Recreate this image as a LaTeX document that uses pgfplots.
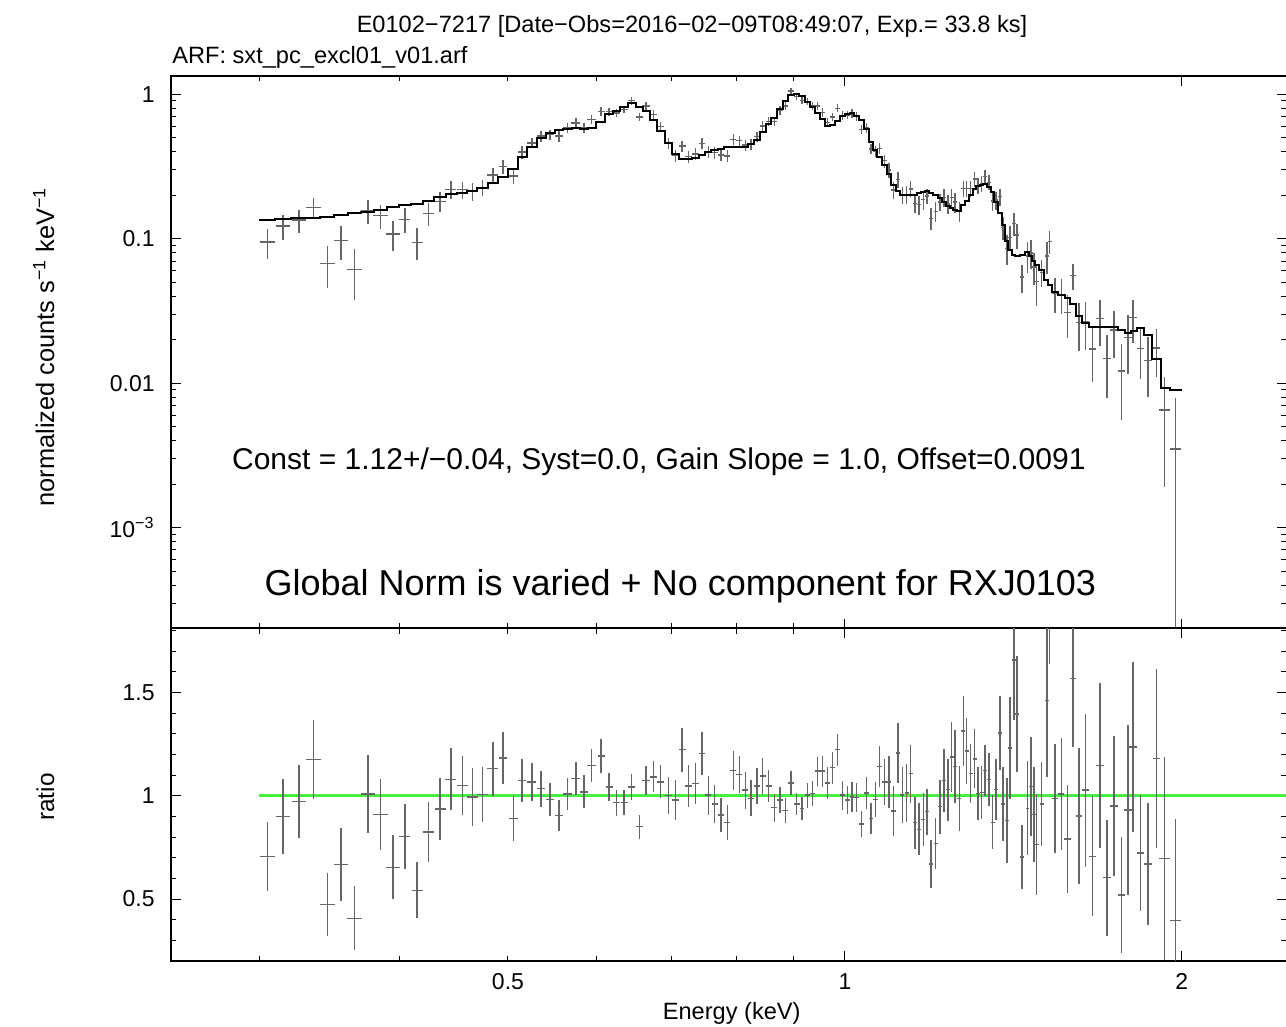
\documentclass[border=0pt]{standalone}
\usepackage{fontspec}
\setmainfont{Liberation Sans}
\usepackage{pgfplots}
\usepackage{pgfplotstable}
\pgfplotsset{compat=1.18}

\definecolor{xgreen}{RGB}{70,238,70}

% E (keV), relative half bin width, model, ratio, ratio err, data, data err +/-
\pgfplotstableread{
E xr m r re d dp dm
0.3049 0.015 0.134 0.707 0.168 0.0947 0.0225 0.0225
0.3147 0.015 0.136 0.900 0.180 0.1224 0.0245 0.0245
0.3253 0.015 0.1385 0.971 0.176 0.1345 0.0244 0.0244
0.3352 0.015 0.140 1.176 0.190 0.1646 0.0266 0.0266
0.3449 0.015 0.142 0.473 0.152 0.0672 0.0216 0.0216
0.3548 0.015 0.146 0.668 0.177 0.0975 0.0258 0.0258
0.3647 0.015 0.150 0.407 0.155 0.0611 0.0233 0.0233
0.3749 0.015 0.154 1.008 0.190 0.1552 0.0293 0.0293
0.3847 0.015 0.159 0.910 0.171 0.1447 0.0272 0.0272
0.3949 0.015 0.165 0.654 0.155 0.1079 0.0256 0.0256
0.4044 0.0113 0.170 0.803 0.156 0.1365 0.0265 0.0265
0.4148 0.0113 0.174 0.542 0.135 0.0943 0.0235 0.0235
0.4246 0.0113 0.182 0.824 0.146 0.1500 0.0266 0.0266
0.4349 0.0113 0.194 0.936 0.150 0.1816 0.0291 0.0291
0.4446 0.0113 0.203 1.079 0.150 0.2190 0.0305 0.0305
0.4551 0.0113 0.208 1.051 0.144 0.2186 0.0300 0.0300
0.4648 0.0113 0.215 0.995 0.140 0.2139 0.0301 0.0301
0.4745 0.0113 0.226 1.006 0.132 0.2274 0.0298 0.0298
0.4847 0.0113 0.244 1.131 0.131 0.2760 0.0320 0.0320
0.4950 0.009 0.267 1.183 0.128 0.3159 0.0342 0.0342
0.5056 0.009 0.305 0.891 0.109 0.2718 0.0332 0.0332
0.5148 0.009 0.370 1.075 0.104 0.3978 0.0385 0.0385
0.5252 0.009 0.433 1.066 0.092 0.4616 0.0398 0.0398
0.5353 0.009 0.497 1.034 0.087 0.5139 0.0432 0.0432
0.5452 0.009 0.538 0.982 0.079 0.5283 0.0425 0.0425
0.5554 0.009 0.568 0.905 0.075 0.5140 0.0426 0.0426
0.5655 0.009 0.580 1.008 0.078 0.5846 0.0452 0.0452
0.5749 0.009 0.585 1.083 0.080 0.6336 0.0468 0.0468
0.5848 0.009 0.575 1.019 0.080 0.5859 0.0460 0.0460
0.5941 0.009 0.586 1.147 0.080 0.6721 0.0469 0.0469
0.6056 0.0072 0.640 1.192 0.082 0.7629 0.0525 0.0525
0.6157 0.0072 0.726 1.043 0.067 0.7572 0.0486 0.0486
0.6249 0.0072 0.768 0.966 0.064 0.7419 0.0492 0.0492
0.6349 0.0072 0.815 0.966 0.060 0.7873 0.0489 0.0489
0.6450 0.0072 0.865 1.043 0.062 0.9022 0.0536 0.0536
0.6551 0.0072 0.820 0.851 0.058 0.6978 0.0476 0.0476
0.6642 0.0072 0.770 1.075 0.070 0.8278 0.0539 0.0539
0.6748 0.0072 0.663 1.091 0.075 0.7233 0.0497 0.0497
0.6847 0.0072 0.560 1.067 0.080 0.5975 0.0448 0.0448
0.6955 0.0072 0.460 1.000 0.090 0.4600 0.0414 0.0414
0.7061 0.0072 0.386 0.979 0.095 0.3779 0.0367 0.0367
0.7153 0.0072 0.358 1.223 0.107 0.4378 0.0383 0.0383
0.7252 0.0072 0.355 1.048 0.100 0.3720 0.0355 0.0355
0.7351 0.0072 0.365 1.059 0.100 0.3865 0.0365 0.0365
0.7453 0.0061 0.380 1.204 0.104 0.4575 0.0395 0.0395
0.7550 0.0061 0.400 1.003 0.094 0.4012 0.0376 0.0376
0.7650 0.0061 0.413 0.960 0.090 0.3965 0.0372 0.0372
0.7750 0.0061 0.420 0.907 0.084 0.3809 0.0353 0.0353
0.7851 0.0061 0.430 0.870 0.084 0.3741 0.0361 0.0361
0.7948 0.0061 0.434 1.123 0.095 0.4874 0.0412 0.0412
0.8047 0.0061 0.434 1.103 0.090 0.4787 0.0391 0.0391
0.8147 0.0061 0.434 1.027 0.090 0.4457 0.0391 0.0391
0.8243 0.0061 0.455 0.987 0.087 0.4491 0.0396 0.0396
0.8345 0.0061 0.485 1.048 0.087 0.5083 0.0422 0.0422
0.8444 0.0061 0.550 1.096 0.086 0.6028 0.0473 0.0473
0.8548 0.0061 0.620 1.048 0.076 0.6498 0.0471 0.0471
0.8646 0.0061 0.690 0.942 0.068 0.6500 0.0469 0.0469
0.8748 0.0061 0.790 0.979 0.064 0.7734 0.0506 0.0506
0.8845 0.0061 0.895 0.928 0.062 0.8306 0.0555 0.0555
0.8949 0.0061 0.990 1.062 0.058 1.0514 0.0574 0.0574
0.9055 0.0061 1.010 0.960 0.054 0.9696 0.0545 0.0545
0.9154 0.0049 0.970 0.938 0.056 0.9099 0.0543 0.0543
0.9254 0.0049 0.890 1.003 0.060 0.8927 0.0534 0.0534
0.9350 0.0049 0.820 1.011 0.060 0.8290 0.0492 0.0492
0.9454 0.0049 0.740 1.119 0.070 0.8281 0.0518 0.0518
0.9552 0.0049 0.670 1.119 0.075 0.7497 0.0503 0.0503
0.9651 0.0049 0.600 1.062 0.078 0.6372 0.0468 0.0468
0.9750 0.0049 0.615 1.136 0.078 0.6986 0.0480 0.0480
0.9851 0.0049 0.655 1.223 0.078 0.8011 0.0511 0.0511
0.9953 0.0049 0.710 1.003 0.070 0.7121 0.0497 0.0497
1.0047 0.0049 0.735 0.979 0.068 0.7196 0.0500 0.0500
1.0145 0.0049 0.745 0.995 0.072 0.7413 0.0536 0.0536
1.0244 0.0049 0.710 0.992 0.070 0.7043 0.0497 0.0497
1.0349 0.0049 0.660 0.864 0.064 0.5702 0.0422 0.0422
1.0448 0.0049 0.580 1.014 0.076 0.5881 0.0441 0.0441
1.0549 0.0049 0.470 0.891 0.074 0.4188 0.0348 0.0348
1.0643 0.0049 0.410 0.982 0.084 0.4026 0.0344 0.0344
1.0739 0.0049 0.370 1.143 0.100 0.4229 0.0370 0.0370
1.0842 0.0049 0.325 1.067 0.110 0.3468 0.0358 0.0358
1.0947 0.0049 0.280 1.067 0.124 0.2988 0.0347 0.0347
1.1053 0.0049 0.235 0.926 0.120 0.2176 0.0282 0.0282
1.1151 0.0049 0.213 1.207 0.146 0.2571 0.0311 0.0311
1.1250 0.0041 0.201 1.003 0.134 0.2016 0.0269 0.0269
1.1352 0.0041 0.200 1.014 0.140 0.2028 0.0280 0.0280
1.1446 0.0041 0.200 1.107 0.140 0.2214 0.0280 0.0280
1.1548 0.0041 0.202 0.870 0.126 0.1757 0.0255 0.0255
1.1650 0.0041 0.206 0.838 0.127 0.1726 0.0262 0.0262
1.1747 0.0041 0.210 0.886 0.128 0.1861 0.0269 0.0269
1.1843 0.0041 0.214 0.923 0.112 0.1975 0.0240 0.0240
1.1941 0.0041 0.207 0.670 0.115 0.1387 0.0238 0.0238
1.2050 0.0041 0.201 0.768 0.123 0.1544 0.0247 0.0247
1.2157 0.0041 0.190 0.947 0.131 0.1799 0.0249 0.0249
1.2257 0.0041 0.180 1.075 0.152 0.1935 0.0274 0.0274
1.2366 0.0041 0.169 1.030 0.150 0.1741 0.0254 0.0254
1.2453 0.0041 0.163 1.188 0.170 0.1936 0.0277 0.0277
1.2545 0.0041 0.157 1.143 0.176 0.1795 0.0276 0.0276
1.2649 0.0041 0.156 0.987 0.156 0.1540 0.0243 0.0243
1.2754 0.0041 0.170 1.313 0.170 0.2232 0.0289 0.0289
1.2843 0.0041 0.184 1.216 0.159 0.2237 0.0293 0.0293
1.2949 0.0041 0.202 1.107 0.144 0.2236 0.0291 0.0291
1.3056 0.0041 0.220 1.179 0.142 0.2594 0.0312 0.0312
1.3153 0.0041 0.231 1.011 0.127 0.2335 0.0293 0.0293
1.3245 0.0041 0.236 1.016 0.128 0.2398 0.0302 0.0302
1.3343 0.0041 0.240 1.123 0.123 0.2695 0.0295 0.0295
1.3445 0.0041 0.228 1.079 0.130 0.2460 0.0296 0.0296
1.3548 0.0041 0.210 0.872 0.130 0.1831 0.0273 0.0273
1.3649 0.0041 0.180 1.030 0.146 0.1854 0.0263 0.0263
1.3753 0.0041 0.150 1.304 0.179 0.1956 0.0269 0.0269
1.3846 0.0041 0.125 0.960 0.180 0.1200 0.0225 0.0225
1.3951 0.0041 0.097 0.880 0.206 0.0854 0.0200 0.0200
1.4047 0.0041 0.083 1.232 0.247 0.1023 0.0205 0.0205
1.4154 0.0041 0.077 1.657 0.290 0.1276 0.0223 0.0223
1.4250 0.0041 0.076 1.396 0.280 0.1061 0.0213 0.0213
1.4397 0.0041 0.077 0.704 0.155 0.0542 0.0119 0.0119
1.4558 0.0041 0.081 0.939 0.227 0.0761 0.0184 0.0184
1.4657 0.0041 0.076 1.046 0.239 0.0795 0.0182 0.0182
1.4757 0.0041 0.070 0.910 0.231 0.0637 0.0162 0.0162
1.4839 0.0041 0.066 0.763 0.244 0.0504 0.0161 0.0161
1.4984 0.0041 0.061 0.960 0.204 0.0586 0.0124 0.0124
1.5157 0.0041 0.052 1.460 0.370 0.0759 0.0192 0.0192
1.5241 0.0041 0.048 2.000 0.360 0.0960 0.0173 0.0173
1.5399 0.0062 0.0425 0.987 0.264 0.0419 0.0112 0.0112
1.5613 0.0062 0.041 1.008 0.270 0.0413 0.0111 0.0111
1.5807 0.0062 0.039 0.790 0.260 0.0308 0.0101 0.0101
1.5990 0.0062 0.0355 1.567 0.330 0.0556 0.0117 0.0117
1.6188 0.0062 0.029 0.902 0.330 0.0262 0.0096 0.0096
1.6403 0.0062 0.026 1.027 0.370 0.0267 0.0096 0.0096
1.6641 0.0062 0.0243 0.707 0.290 0.0172 0.0070 0.0070
1.6892 0.0078 0.0244 1.147 0.400 0.0280 0.0098 0.0098
1.7148 0.0078 0.0245 0.603 0.280 0.0148 0.0069 0.0069
1.7397 0.0078 0.0245 0.950 0.340 0.0233 0.0083 0.0083
1.7663 0.0078 0.0233 0.519 0.280 0.0121 0.0065 0.0065
1.7905 0.0078 0.0222 0.931 0.410 0.0207 0.0091 0.0091
1.8090 0.0078 0.0230 1.236 0.410 0.0284 0.0094 0.0094
1.8367 0.0078 0.0240 0.723 0.280 0.0174 0.0067 0.0067
1.8657 0.0078 0.0215 0.670 0.296 0.0144 0.0064 0.0064
1.8982 0.0078 0.0148 1.180 0.435 0.0175 0.0064 0.0064
1.9309 0.011 0.0093 0.697 0.490 0.0065 0.0046 0.0046
1.9739 0.011 0.0089 0.397 0.490 0.0035 0.0044 0.0034
}\spec

\begin{document}
\begin{tikzpicture}
\useasboundingbox (0,0) rectangle (643pt,513.5pt);

% spectrum panel
\begin{axis}[
  at={(85.5pt,199.25pt)}, anchor=south west,
  scale only axis, width=557.75pt, height=276.25pt,
  xmode=log, xmin=0.25, xmax=2.48,
  ymode=log, ymin=2e-4, ymax=1.34,
  axis line style={line width=1pt},
  tick align=inside,
  major tick style={black, line width=0.5pt},
  minor tick style={black, line width=0.5pt},
  major tick length=5pt, minor tick length=2.7pt,
  xtick={1,2}, minor xtick={0.3,0.4,0.6,0.7,0.8,0.9},
  extra x ticks={0.5}, extra x tick style={major tick length=2.7pt},
  xticklabels={}, extra x tick labels={},
  ytick={0.001,0.01,0.1,1},
  yticklabels={10\textsuperscript{−3},0.01,0.1,1},
  minor ytick={3e-4,4e-4,5e-4,6e-4,7e-4,8e-4,9e-4,
    2e-3,3e-3,4e-3,5e-3,6e-3,7e-3,8e-3,9e-3,
    0.02,0.03,0.04,0.05,0.06,0.07,0.08,0.09,
    0.2,0.3,0.4,0.5,0.6,0.7,0.8,0.9},
  tick label style={font=\fontsize{11.5}{13}\selectfont},
  yticklabel style={anchor=east, inner sep=0pt, xshift=-8pt},
]
\addplot [draw=none, mark=none,
  error bars/x dir=both, error bars/x explicit relative,
  error bars/y dir=both, error bars/y explicit,
  error bars/error mark=none,
  error bars/error bar style={draw=black!60, line width=0.7pt}]
  table [x=E, y=d, x error=xr, y error plus=dp, y error minus=dm] {\spec};
\addplot [black, line width=1pt, const plot mark mid, mark=none] table [x=E, y=m] {\spec};
\addplot [black, line width=1pt, mark=none] coordinates {(0.2998,0.134)(0.3049,0.134)};
\addplot [black, line width=1pt, mark=none] coordinates {(1.9739,0.0089)(1.9994,0.0089)};
\end{axis}

% ratio panel
\begin{axis}[
  at={(85.5pt,33pt)}, anchor=south west,
  scale only axis, width=557.75pt, height=166.25pt,
  xmode=log, xmin=0.25, xmax=2.48,
  ymin=0.2, ymax=1.81,
  axis line style={line width=1pt},
  tick align=inside,
  major tick style={black, line width=0.5pt},
  minor tick style={black, line width=0.5pt},
  major tick length=5pt, minor tick length=2.7pt,
  xtick={1,2}, minor xtick={0.3,0.4,0.6,0.7,0.8,0.9},
  extra x ticks={0.5}, extra x tick style={major tick length=2.7pt},
  xticklabels={1,2}, extra x tick labels={0.5},
  ytick={0.5,1,1.5}, yticklabels={0.5,1,1.5},
  minor ytick={0.3,0.4,0.6,0.7,0.8,0.9,1.1,1.2,1.3,1.4,1.6,1.7,1.8},
  tick label style={font=\fontsize{11.5}{13}\selectfont},
  yticklabel style={anchor=east, inner sep=0pt, xshift=-8pt},
  xticklabel style={anchor=base, inner sep=0pt, yshift=-14.5pt},
]
\addplot [xgreen, line width=1.3pt, mark=none] coordinates {(0.2998,1)(2.48,1)};
\addplot [draw=none, mark=none,
  error bars/x dir=both, error bars/x explicit relative,
  error bars/y dir=both, error bars/y explicit,
  error bars/error mark=none,
  error bars/error bar style={draw=black!60, line width=0.7pt}]
  table [x=E, y=r, x error=xr, y error=re] {\spec};
\end{axis}

\node[anchor=base, inner sep=0pt, font=\fontsize{11.8}{14}\selectfont] at (346pt,497pt)
  {E0102−7217 [Date−Obs=2016−02−09T08:49:07, Exp.= 33.8 ks]};
\node[anchor=base west, inner sep=0pt, font=\fontsize{11.8}{14}\selectfont] at (86pt,481.5pt)
  {ARF: sxt\_pc\_excl01\_v01.arf};
\node[anchor=base west, inner sep=0pt, font=\fontsize{15}{18}\selectfont] at (115.85pt,278.85pt)
  {Const = 1.12+/−0.04, Syst=0.0, Gain Slope = 1.0, Offset=0.0091};
\node[anchor=base west, inner sep=0pt, font=\fontsize{18}{21}\selectfont] at (132.15pt,215.5pt)
  {Global Norm is varied + No component for RXJ0103};
\node[anchor=base, inner sep=0pt, font=\fontsize{11.8}{14}\selectfont] at (365.85pt,3.5pt)
  {Energy (keV)};
\node[anchor=base, rotate=90, inner sep=0pt, font=\fontsize{12.7}{15}\selectfont] at (27pt,340pt)
  {normalized counts s\textsuperscript{−1} keV\textsuperscript{−1}};
\node[anchor=base, rotate=90, inner sep=0pt, font=\fontsize{12.2}{14}\selectfont] at (27pt,115pt)
  {ratio};
\end{tikzpicture}
\end{document}
